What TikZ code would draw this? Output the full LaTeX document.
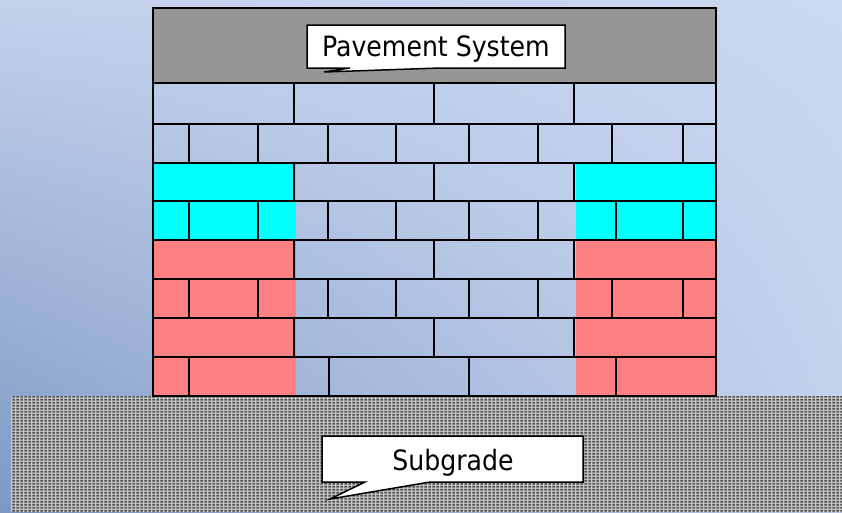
\documentclass[tikz,border=0pt]{standalone}
\usepackage{fontspec}
\setmainfont{DejaVu Sans Condensed}
\usetikzlibrary{patterns.meta,shadings}

% fine halftone used for the soil
\pgfdeclarepattern{
  name=gravel,
  type=uncolored,
  bottom left={\pgfpoint{0pt}{0pt}},
  top right={\pgfpoint{4.4pt}{2.8pt}},
  tile size={\pgfpoint{4.4pt}{2.8pt}},
  code={
    \pgfpathrectangle{\pgfpoint{0.5pt}{0.5pt}}{\pgfpoint{2.8pt}{1.7pt}}
    \pgfusepath{fill}
  }
}

\definecolor{bgTL}{HTML}{C3D1EC}
\definecolor{bgTR}{HTML}{CAD8F2}
\definecolor{bgBL}{HTML}{7E98C4}
\definecolor{bgBR}{HTML}{C2D0EC}
\definecolor{capgray}{HTML}{969696}
\definecolor{brickred}{HTML}{FF8080}
\definecolor{brickcyan}{HTML}{00FFFF}
\definecolor{soilbase}{HTML}{C6C6C6}
\definecolor{soildot}{HTML}{505050}

\tikzset{
  brickline/.style={draw=black, line width=1.8pt},
  calloutbox/.style={draw=black, fill=white, line width=1.5pt},
  calltext/.style={font=\fontsize{28}{34}\selectfont, inner sep=0pt, anchor=base},
}

\begin{document}
\begin{tikzpicture}[x=1pt, y=-1pt]
\useasboundingbox (0,0) rectangle (842,512);

% backdrop
\shade[upper left=bgTL, upper right=bgTR, lower left=bgBL, lower right=bgBR]
  (0,0) rectangle (842,512);

% subgrade soil
\fill[soilbase] (11,396) rectangle (842,512);
\fill[pattern={gravel}, pattern color=soildot] (11,396) rectangle (842,512);

% wall: surface course and coloured zones
\fill[capgray] (153,8) rectangle (716,83);
\fill[brickcyan] (153,163) rectangle (296,240);
\fill[brickcyan] (576,163) rectangle (716,240);
\fill[brickred] (153,240) rectangle (296,396);
\fill[brickred] (576,240) rectangle (716,396);

% courses
\foreach \y in {83,124,163,201,240,279,318,357}
  \draw[brickline] (153,\y) -- (716,\y);

% full-brick joints
\foreach \ya/\yb in {83/124,163/201,240/279,318/357}
  \foreach \x in {294,434,574}
    \draw[brickline] (\x,\ya) -- (\x,\yb);

% half-brick joints
\foreach \x in {189,258,328,396,469,538,612,683}
  \draw[brickline] (\x,124) -- (\x,163);
\foreach \x in {189,258,328,396,469,538,616,683}
  \draw[brickline] (\x,201) -- (\x,240);
\foreach \x in {189,258,328,396,469,538,612,683}
  \draw[brickline] (\x,279) -- (\x,318);
\foreach \x in {189,329,469,616}
  \draw[brickline] (\x,357) -- (\x,396);

% outline
\draw[brickline] (153,8) rectangle (716,396);

% callouts
\draw[calloutbox] (307,25) -- (565,25) -- (565,68) -- (440,68) -- (324,72)
  -- (350,68) -- (307,68) -- cycle;
\node[calltext] (pavement) at (436,56) {Pavement System};

\draw[calloutbox] (322,436) -- (583,436) -- (583,482) -- (430,482) -- (330,499)
  -- (365,482) -- (322,482) -- cycle;
\node[calltext] (subgrade) at (453,470.5) {Subgrade};
\end{tikzpicture}
\end{document}
